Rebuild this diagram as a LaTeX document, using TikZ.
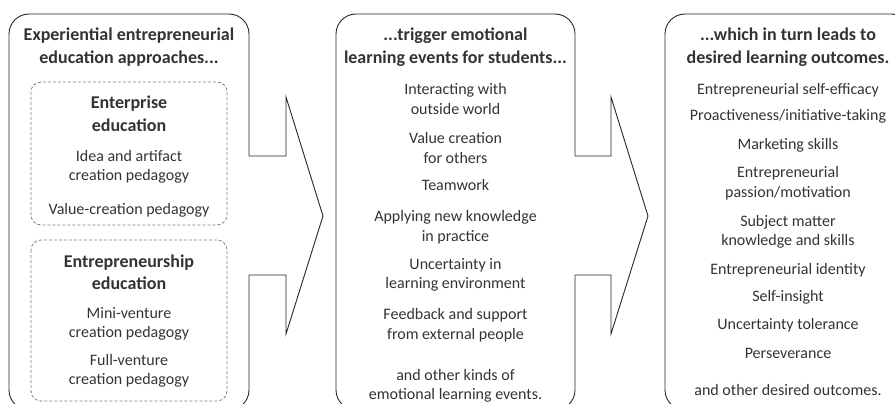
\documentclass[tikz,border=0pt]{standalone}
\usepackage{fontspec}
\setmainfont{Carlito}
\definecolor{inkgray}{HTML}{333333}
\definecolor{dashgray}{HTML}{808080}
\tikzset{
  outline/.style={line width=0.9pt, draw=black!85},
  subbox/.style={draw=dashgray, line width=0.8pt, dash pattern=on 3pt off 2pt, rounded corners=10pt},
  head/.style={align=center, text=inkgray, inner sep=0pt, font=\fontsize{18}{22.5}\selectfont\bfseries},
  item/.style={align=center, text=inkgray, inner sep=0pt, font=\fontsize{16}{19.5}\selectfont},
}
\begin{document}
\begin{tikzpicture}[x=1pt,y=-1pt]
        \useasboundingbox (0,0) rectangle (895,404);
        % left column
        \draw[outline, rounded corners=20pt] (249,156) -- (249,14) -- (9,14) -- (9,410) -- (249,410) -- (249,275);
        \draw[outline] (249,156) -- (286,156) -- (286,97) -- (323,216) -- (286,334) -- (286,275) -- (249,275);
        \draw[subbox] (31,82) rectangle (227,225);
        \draw[subbox] (31,240) rectangle (227,401);
        \node[head] (approaches) at (129,47) {Experiential entrepreneurial\\education approaches...};
        \node[head] (enterprise) at (129,114) {Enterprise\\education};
        \node[item] (ideaped) at (129,167) {Idea and artifact\\creation pedagogy};
        \node[item] (valueped) at (129,210) {Value-creation pedagogy};
        \node[head] (entrepreneurship) at (129,272) {Entrepreneurship\\education};
        \node[item] (miniped) at (129,324) {Mini-venture\\creation pedagogy};
        \node[item] (fullped) at (129,371) {Full-venture\\creation pedagogy};
        % middle column
        \draw[outline, rounded corners=20pt] (575,156) -- (575,14) -- (336,14) -- (336,410) -- (575,410) -- (575,275);
        \draw[outline] (575,156) -- (611,156) -- (611,97) -- (648,216) -- (611,334) -- (611,275) -- (575,275);
        \node[head] (events) at (455.5,47) {...trigger emotional\\learning events for students...};
        \node[item] (outside) at (455.5,99) {Interacting with\\outside world};
        \node[item] (others) at (455.5,148) {Value creation\\for others};
        \node[item] (teamwork) at (455.5,185) {Teamwork};
        \node[item] (applying) at (455.5,227) {Applying new knowledge\\in practice};
        \node[item] (uncertain) at (455.5,275) {Uncertainty in\\learning environment};
        \node[item] (feedback) at (455.5,325) {Feedback and support\\from external people};
        \node[item] (otherevents) at (455.5,386) {and other kinds of\\emotional learning events.};
        % right column
        \draw[outline, rounded corners=20pt] (665,14) -- (665,410) -- (911,410) -- (911,14) -- cycle;
        \node[head] (outcomes) at (788,47) {...which in turn leads to\\desired learning outcomes.};
        \node[item] (efficacy) at (788,90) {Entrepreneurial self-efficacy};
        \node[item] (proactive) at (788,116) {Proactiveness/initiative-taking};
        \node[item] (marketing) at (788,145) {Marketing skills};
        \node[item] (passion) at (788,183) {Entrepreneurial\\passion/motivation};
        \node[item] (subject) at (788,232) {Subject matter\\knowledge and skills};
        \node[item] (identity) at (788,270) {Entrepreneurial identity};
        \node[item] (insight) at (788,297) {Self-insight};
        \node[item] (tolerance) at (788,325) {Uncertainty tolerance};
        \node[item] (persevere) at (788,353) {Perseverance};
        \node[item] (otheroutcomes) at (788,390) {and other desired outcomes.};
\end{tikzpicture}
\end{document}
